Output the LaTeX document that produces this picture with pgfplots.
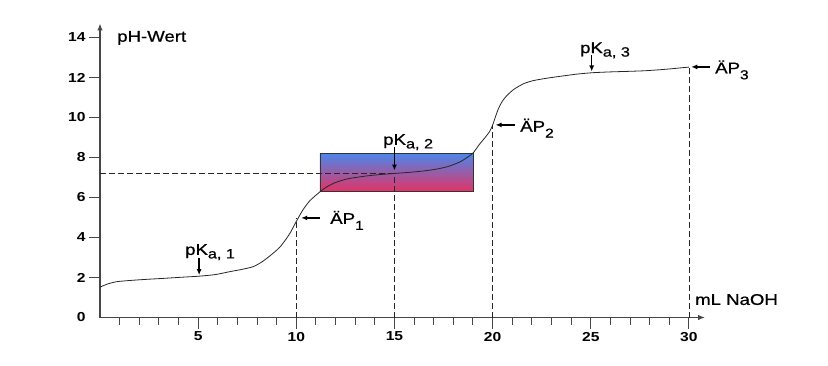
\documentclass[border=0pt]{standalone}
\usepackage{pgfplots}
\pgfplotsset{compat=1.18}
\usepackage{fontspec}
\setmainfont{Liberation Sans}[FakeStretch=1.2]
\newfontfamily\lblfont{Liberation Sans}[FakeStretch=1.2, FakeBold=0.8]
\usetikzlibrary{arrows.meta}
\definecolor{axgray}{RGB}{70,70,70}
\definecolor{boxtop}{RGB}{75,135,235}
\definecolor{boxbot}{RGB}{228,50,100}
\pgfplotstableread{
x y
0.0 1.52
0.4 1.68
0.85 1.79
1.5 1.85
2.4 1.91
3.3 1.96
4.1 2.01
5.1 2.07
5.9 2.15
6.6 2.29
7.2 2.40
7.8 2.54
8.2 2.75
8.5 2.96
8.9 3.28
9.2 3.56
9.5 3.95
9.7 4.25
9.9 4.62
10.1 4.98
10.35 5.40
10.7 5.85
11.2 6.28
11.5 6.50
11.9 6.71
12.3 6.85
12.75 6.96
13.6 7.08
14.3 7.15
15.1 7.21
15.9 7.27
16.6 7.34
17.2 7.43
17.7 7.54
18.1 7.68
18.4 7.81
18.7 8.00
19.0 8.22
19.3 8.62
19.6 8.98
19.85 9.30
20.0 9.62
20.15 10.05
20.3 10.45
20.5 10.82
20.75 11.12
21.1 11.42
21.6 11.70
22.1 11.85
22.8 11.97
23.6 12.08
24.3 12.17
25.1 12.24
26.0 12.28
27.0 12.31
27.8 12.34
28.8 12.41
30.0 12.52
}\titration
\newcommand{\lbl}{\lblfont\fontsize{15.5}{17}\selectfont}
\newcommand{\subk}[1]{\raisebox{-3.5pt}{\fontsize{13.5}{14}\selectfont #1}}
\newcommand{\subp}[1]{\raisebox{-6pt}{\fontsize{13}{14}\selectfont #1}}
\begin{document}
\begin{tikzpicture}
\path[use as bounding box] (0,0) rectangle (828pt,365pt);
\begin{axis}[
  at={(100pt,47.5pt)}, anchor=south west,
  width=605pt, height=294pt, scale only axis,
  xmin=0, xmax=30.82, ymin=0, ymax=14.7,
  axis lines=left,
  axis line style={draw=axgray, line width=1.2pt, -{Latex[length=7pt,width=5.5pt]}},
  tick align=outside,
  tick style={draw=axgray, line width=1pt},
  major tick length=11pt, minor tick length=7pt,
  xtick={5,10,...,30}, minor xtick={1,...,29},
  ytick={2,4,...,14},
  extra y ticks={0}, extra y tick style={tick style={draw=none}},
  ticklabel style={font=\fontsize{13}{14}\selectfont\bfseries},
  /pgf/number format/assume math mode=true,
  clip=false,
]
\addplot[draw=none, forget plot] coordinates {(0,0)};
\shadedraw[top color=boxtop, bottom color=boxbot, draw=black!80, line width=0.6pt]
  (axis cs:11.2,6.29) rectangle (axis cs:19.0,8.22);
\draw[black!85, line width=0.8pt, dash pattern=on 6pt off 3pt] (axis cs:0,7.22) -- (axis cs:15,7.22);
\draw[black!85, line width=0.8pt, dash pattern=on 6pt off 3pt] (axis cs:10,0) -- (axis cs:10,5.0);
\draw[black!85, line width=0.8pt, dash pattern=on 6pt off 3pt] (axis cs:15,0) -- (axis cs:15,7.22);
\draw[black!85, line width=0.8pt, dash pattern=on 6pt off 3pt] (axis cs:20,0) -- (axis cs:20,9.62);
\draw[black!85, line width=0.8pt, dash pattern=on 6pt off 3pt] (axis cs:30,0) -- (axis cs:30,12.52);
\addplot[black!85, line width=0.8pt, smooth, tension=0.4] table {\titration};
% arrows
\draw[black, line width=1.3pt, -{Latex[length=6pt,width=5pt]}] (axis cs:5.05,2.98) -- (axis cs:5.05,2.12);
\draw[black, line width=1.3pt, -{Latex[length=6pt,width=5pt]}] (axis cs:15,8.52) -- (axis cs:15,7.35);
\draw[black, line width=1.3pt, -{Latex[length=6pt,width=5pt]}] (axis cs:25.05,13.12) -- (axis cs:25.05,12.30);
\draw[black, line width=1.3pt, -{Latex[length=6pt,width=5pt]}] (axis cs:11.2,4.98) -- (axis cs:10.25,4.98);
\draw[black, line width=1.3pt, -{Latex[length=6pt,width=5pt]}] (axis cs:21.14,9.63) -- (axis cs:20.15,9.63);
\draw[black, line width=1.3pt, -{Latex[length=6pt,width=5pt]}] (axis cs:31.07,12.53) -- (axis cs:30.12,12.53);
% labels
\node[anchor=base west, inner sep=0pt, font=\lbl] at (axis cs:0.87,13.79) {pH-Wert};
\node[anchor=base west, inner sep=0pt, font=\lbl] at (axis cs:30.31,0.63) {mL NaOH};
\node[anchor=base west, inner sep=0pt, font=\lbl] at (axis cs:4.33,3.13) {pK\subk{a, 1}};
\node[anchor=base west, inner sep=0pt, font=\lbl] at (axis cs:14.42,8.63) {pK\subk{a, 2}};
\node[anchor=base west, inner sep=0pt, font=\lbl] at (axis cs:24.45,13.22) {pK\subk{a, 3}};
\node[anchor=base west, inner sep=0pt, font=\lbl] at (axis cs:11.72,4.68) {ÄP\subp{1}};
\node[anchor=base west, inner sep=0pt, font=\lbl] at (axis cs:21.4,9.29) {ÄP\subp{2}};
\node[anchor=base west, inner sep=0pt, font=\lbl] at (axis cs:31.33,12.21) {ÄP\subp{3}};
\end{axis}
\end{tikzpicture}
\end{document}
